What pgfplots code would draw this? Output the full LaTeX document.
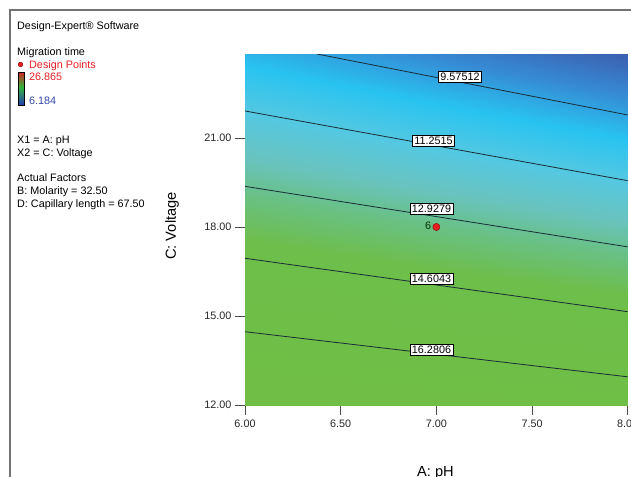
\documentclass[border=0pt]{standalone}
\usepackage{fontspec}
\setmainfont{Liberation Sans}
\usepackage{pgfplots}
\pgfplotsset{compat=1.18}
\definecolor{cline}{RGB}{25,45,55}
\definecolor{dpred}{RGB}{230,30,35}
\definecolor{dpblue}{RGB}{50,70,170}
\definecolor{cbred}{RGB}{210,35,35}
\definecolor{cbgreen}{RGB}{50,180,60}
\definecolor{cbblue}{RGB}{35,60,175}
\newcommand{\sz}{\fontsize{10.8bp}{13bp}\selectfont}
\newcommand{\lz}{\fontsize{14.6bp}{17bp}\selectfont}
\pgfplotstableread{
x y v
6 12 17.95
7 12 17.48
8 12 17.00
6 13 17.27
7 13 16.76
8 13 16.24
6 14 16.60
7 14 16.04
8 14 15.48
6 15 15.92
7 15 15.32
8 15 14.72
6 16 15.25
7 16 14.60
8 16 13.96
6 17 14.57
7 17 13.89
8 17 13.20
6 18 13.89
7 18 13.17
8 18 12.44
6 19 13.22
7 19 12.45
8 19 11.68
6 20 12.54
7 20 11.73
8 20 10.92
6 21 11.87
7 21 11.01
8 21 10.16
6 22 11.19
7 22 10.30
8 22 9.40
6 23 10.51
7 23 9.58
8 23 8.64
6 23.83 9.95
7 23.83 8.98
8 23.83 8.01
}\surfdata
\begin{document}
\begin{tikzpicture}
\useasboundingbox (0,0) rectangle (631bp,-477bp);
\draw[black!55, line width=1.3bp] (10bp,-477bp) -- (10bp,-10bp) -- (631bp,-10bp);
% left-side legend texts
\node[anchor=base west, inner sep=0, font=\sz] at (17bp,-29bp) {Design-Expert® Software};
\node[anchor=base west, inner sep=0, font=\sz] at (17bp,-55bp) {Migration time};
\fill[dpred, draw=black!50!red, line width=0.3bp] (20.5bp,-64.5bp) circle (2.4bp);
\node[anchor=base west, inner sep=0, font=\sz, text=dpred] at (29bp,-68bp) {Design Points};
\shade[top color=cbred, bottom color=cbgreen] (18bp,-72bp) rectangle (24bp,-87bp);
\shade[top color=cbgreen, bottom color=cbblue] (18bp,-87bp) rectangle (24bp,-105bp);
\draw[black, line width=0.4bp] (18bp,-72bp) rectangle (24bp,-105bp);
\node[anchor=base west, inner sep=0, font=\sz, text=dpred] at (29bp,-80.5bp) {26.865};
\node[anchor=base west, inner sep=0, font=\sz, text=dpblue] at (29bp,-104.5bp) {6.184};
\node[anchor=base west, inner sep=0, font=\sz] at (17bp,-143bp) {X1 = A: pH};
\node[anchor=base west, inner sep=0, font=\sz] at (17bp,-156bp) {X2 = C: Voltage};
\node[anchor=base west, inner sep=0, font=\sz] at (17bp,-181bp) {Actual Factors};
\node[anchor=base west, inner sep=0, font=\sz] at (17bp,-194bp) {B: Molarity = 32.50};
\node[anchor=base west, inner sep=0, font=\sz] at (17bp,-207bp) {D: Capillary length = 67.50};
\begin{axis}[at={(245bp,-405bp)}, anchor=south west, scale only axis,
  width=382.7bp, height=351bp,
  xmin=6, xmax=8, ymin=12, ymax=23.83,
  axis x line*=bottom, axis y line*=left,
  tick align=outside, major tick length=10bp,
  xtick={6,6.5,7,7.5,8}, ytick={12,15,18,21},
  tick style={black!70, line width=0.6bp},
  axis line style={black!85, line width=0.8bp},
  /pgf/number format/.cd, fixed, fixed zerofill, precision=2, assume math mode=true,
  /pgfplots/.cd,
  ticklabel style={font=\sz, text=black!85},
  xticklabel style={yshift=-1bp},
  colormap={dx}{rgb255(0cm)=(60,95,175); rgb255(1cm)=(55,135,210); rgb255(2.2cm)=(40,195,240); rgb255(3.3cm)=(85,200,225); rgb255(4.3cm)=(105,195,190); rgb255(5.2cm)=(105,192,130); rgb255(6.2cm)=(110,190,75); rgb255(10cm)=(112,190,68)},
  point meta min=8, point meta max=18,
  clip=true]
\addplot[surf, shader=interp, mesh/cols=3, point meta=explicit] table[x=x, y=y, meta=v] {\surfdata};
\addplot[cline, line width=0.8bp] coordinates {(6.376,23.83) (8,21.775)};
\addplot[cline, line width=0.8bp] coordinates {(6,21.91) (8,19.56)};
\addplot[cline, line width=0.8bp] coordinates {(6,19.37) (8,17.33)};
\addplot[cline, line width=0.8bp] coordinates {(6,16.945) (8,15.145)};
\addplot[cline, line width=0.8bp] coordinates {(6,14.47) (8,12.95)};
\addplot[only marks, mark=*, mark size=3.6bp, mark options={fill=dpred, draw=black!45!red, line width=0.4bp}] coordinates {(7,18)};
\end{axis}
% contour labels
\tikzset{clab/.style={draw=black, fill=white, line width=0.5bp, inner xsep=1.8bp, inner ysep=1.4bp, text height=7.8bp, text depth=0.3bp, font=\sz}}
\node[clab] at (460bp,-76.5bp) {9.57512};
\node[clab] at (433.5bp,-140.5bp) {11.2515};
\node[clab] at (431.5bp,-208.5bp) {12.9279};
\node[clab] at (431.5bp,-278.5bp) {14.6043};
\node[clab] at (431.5bp,-349.5bp) {16.2806};
\node[font=\sz, text=black!80!green, inner sep=0] at (428bp,-226bp) {6};
% axis titles
\node[font=\lz, rotate=90, inner sep=0] at (172bp,-226bp) {C: Voltage};
\node[font=\lz, anchor=base, inner sep=0] at (435.5bp,-476.5bp) {A: pH};
\end{tikzpicture}
\end{document}
